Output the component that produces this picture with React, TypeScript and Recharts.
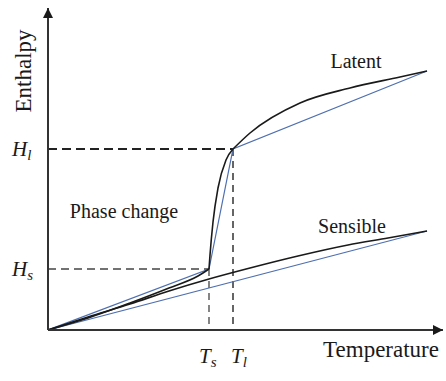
import {
  ComposedChart,
  Line,
  XAxis,
  YAxis,
  ReferenceLine,
  ReferenceDot,
} from 'recharts';

const FONT = '"Liberation Serif", "Times New Roman", serif';
const INK = '#1a1a1a';
const BLUE = '#4f6fb0';

// phase change points (solidus / liquidus)
const T_S = 161;
const T_L = 185;
const H_S = 61;
const H_L = 181;

const tempTicks = [T_S, T_L];
const tempTickLabels = ['s', 'l'];
const enthTicks = [H_S, H_L];
const enthTickLabels = ['s', 'l'];

// latent model, black curve (solid / mushy / liquid pieces)
const latentSolid = [
  { t: 0, h: 0 },
  { t: 40, h: 12 },
  { t: 82, h: 27 },
  { t: 121, h: 42 },
  { t: 150, h: 54 },
  { t: 161, h: 61 },
];
const latentMushy = [
  { t: 161, h: 61 },
  { t: 162, h: 75 },
  { t: 165, h: 108 },
  { t: 170, h: 142 },
  { t: 178, h: 170 },
  { t: 185, h: 181 },
];
const latentLiquid = [
  { t: 185, h: 181 },
  { t: 202, h: 197 },
  { t: 252, h: 227 },
  { t: 302, h: 242 },
  { t: 352, h: 253 },
  { t: 379, h: 259 },
];
// piecewise linear approximation (blue)
const latentLinear = [
  { t: 0, h: 0 },
  { t: 161, h: 61 },
  { t: 185, h: 181 },
  { t: 379, h: 259 },
];

const sensibleCurve = [
  { t: 0, h: 0 },
  { t: 40, h: 13 },
  { t: 82, h: 26 },
  { t: 121, h: 39 },
  { t: 161, h: 51 },
  { t: 202, h: 62 },
  { t: 250, h: 74 },
  { t: 300, h: 85 },
  { t: 340, h: 92 },
  { t: 379, h: 99 },
];
const sensibleLinear = [
  { t: 0, h: 0 },
  { t: 379, h: 99 },
];

function TempTick({ x, payload }: { x?: number; payload?: { value: number } }) {
  if (!payload) return null;
  const i = tempTicks.indexOf(payload.value);
  const dx = i === 0 ? -10 : -2;
  return (
    <text x={(x ?? 0) + dx} y={363} fontFamily={FONT} fontSize={21} fill={INK} fontStyle="italic">
      T
      <tspan fontSize={15} dy={4}>
        {tempTickLabels[i]}
      </tspan>
    </text>
  );
}

function EnthTick({ y, payload }: { y?: number; payload?: { value: number } }) {
  if (!payload) return null;
  const i = enthTicks.indexOf(payload.value);
  return (
    <text x={12} y={(y ?? 0) + 7} fontFamily={FONT} fontSize={21} fill={INK} fontStyle="italic">
      H
      <tspan fontSize={15} dy={4}>
        {enthTickLabels[i]}
      </tspan>
    </text>
  );
}

function CurveLabel({ cx, cy, text }: { cx?: number; cy?: number; text: string }) {
  return (
    <text x={cx} y={cy} textAnchor="middle" fontFamily={FONT} fontSize={20} fill={INK}>
      {text}
    </text>
  );
}

function ArrowRight({ cx, cy }: { cx?: number; cy?: number }) {
  const x = cx ?? 0;
  const y = cy ?? 0;
  return <path d={`M${x},${y} L${x - 10},${y - 5} L${x - 10},${y + 5} Z`} fill={INK} />;
}

function ArrowUp({ cx, cy }: { cx?: number; cy?: number }) {
  const x = cx ?? 0;
  const y = cy ?? 0;
  return <path d={`M${x},${y} L${x - 5},${y + 10} L${x + 5},${y + 10} Z`} fill={INK} />;
}

export default function App() {
  return (
    <div style={{ position: 'absolute', left: 0, top: 0, background: '#fff' }}>
      <ComposedChart width={446} height={381} margin={{ top: 8, right: 3, left: 0, bottom: 0 }}>
        <XAxis
          type="number"
          dataKey="t"
          domain={[0, 395]}
          ticks={tempTicks}
          interval={0}
          tick={<TempTick />}
          tickLine={false}
          axisLine={{ stroke: '#333', strokeWidth: 2 }}
          height={51}
          allowDataOverflow
          label={(props: any) => {
            const vb = props.viewBox;
            return (
              <text
                x={vb.x + vb.width - 4}
                y={vb.y + 27}
                textAnchor="end"
                fontFamily={FONT}
                fontSize={23}
                fill={INK}
              >
                Temperature
              </text>
            );
          }}
        />
        <YAxis
          type="number"
          dataKey="h"
          domain={[0, 322]}
          ticks={enthTicks}
          interval={0}
          tick={<EnthTick />}
          tickLine={false}
          axisLine={{ stroke: '#333', strokeWidth: 2 }}
          width={48}
          allowDataOverflow
          label={(props: any) => {
            const vb = props.viewBox;
            const y = vb.y + 63;
            return (
              <text
                x={31}
                y={y}
                transform={`rotate(-90, 31, ${y})`}
                textAnchor="middle"
                fontFamily={FONT}
                fontSize={23}
                fill={INK}
              >
                Enthalpy
              </text>
            );
          }}
        />

        <ReferenceLine
          segment={[{ x: 0, y: H_L }, { x: T_L, y: H_L }]}
          stroke="#222"
          strokeWidth={2}
          strokeDasharray="9 5"
          ifOverflow="visible"
        />
        <ReferenceLine
          segment={[{ x: T_L, y: H_L }, { x: T_L, y: 0 }]}
          stroke="#333"
          strokeWidth={1.5}
          strokeDasharray="7 5"
          ifOverflow="visible"
        />
        <ReferenceLine
          segment={[{ x: 0, y: H_S }, { x: T_S, y: H_S }]}
          stroke="#444"
          strokeWidth={1.3}
          strokeDasharray="8 5"
          ifOverflow="visible"
        />
        <ReferenceLine
          segment={[{ x: T_S, y: H_S }, { x: T_S, y: 0 }]}
          stroke="#444"
          strokeWidth={1.3}
          strokeDasharray="7 5"
          ifOverflow="visible"
        />

        <Line data={sensibleLinear} dataKey="h" type="linear" stroke={BLUE} strokeWidth={1.2} dot={false} isAnimationActive={false} />
        <Line data={latentLinear} dataKey="h" type="linear" stroke={BLUE} strokeWidth={1.2} dot={false} isAnimationActive={false} />
        <Line data={sensibleCurve} dataKey="h" type="monotone" stroke={INK} strokeWidth={1.6} dot={false} isAnimationActive={false} />
        <Line data={latentSolid} dataKey="h" type="monotone" stroke={INK} strokeWidth={1.6} dot={false} isAnimationActive={false} />
        <Line data={latentMushy} dataKey="h" type="monotone" stroke={INK} strokeWidth={1.6} dot={false} isAnimationActive={false} />
        <Line data={latentLiquid} dataKey="h" type="monotone" stroke={INK} strokeWidth={1.6} dot={false} isAnimationActive={false} />

        <ReferenceDot x={395} y={0} ifOverflow="visible" shape={<ArrowRight />} />
        <ReferenceDot x={0} y={322} ifOverflow="visible" shape={<ArrowUp />} />

        <ReferenceDot x={308} y={262} ifOverflow="visible" shape={<CurveLabel text="Latent" />} />
        <ReferenceDot x={304} y={97} ifOverflow="visible" shape={<CurveLabel text="Sensible" />} />
        <ReferenceDot x={76} y={112} ifOverflow="visible" shape={<CurveLabel text="Phase change" />} />
      </ComposedChart>
    </div>
  );
}
